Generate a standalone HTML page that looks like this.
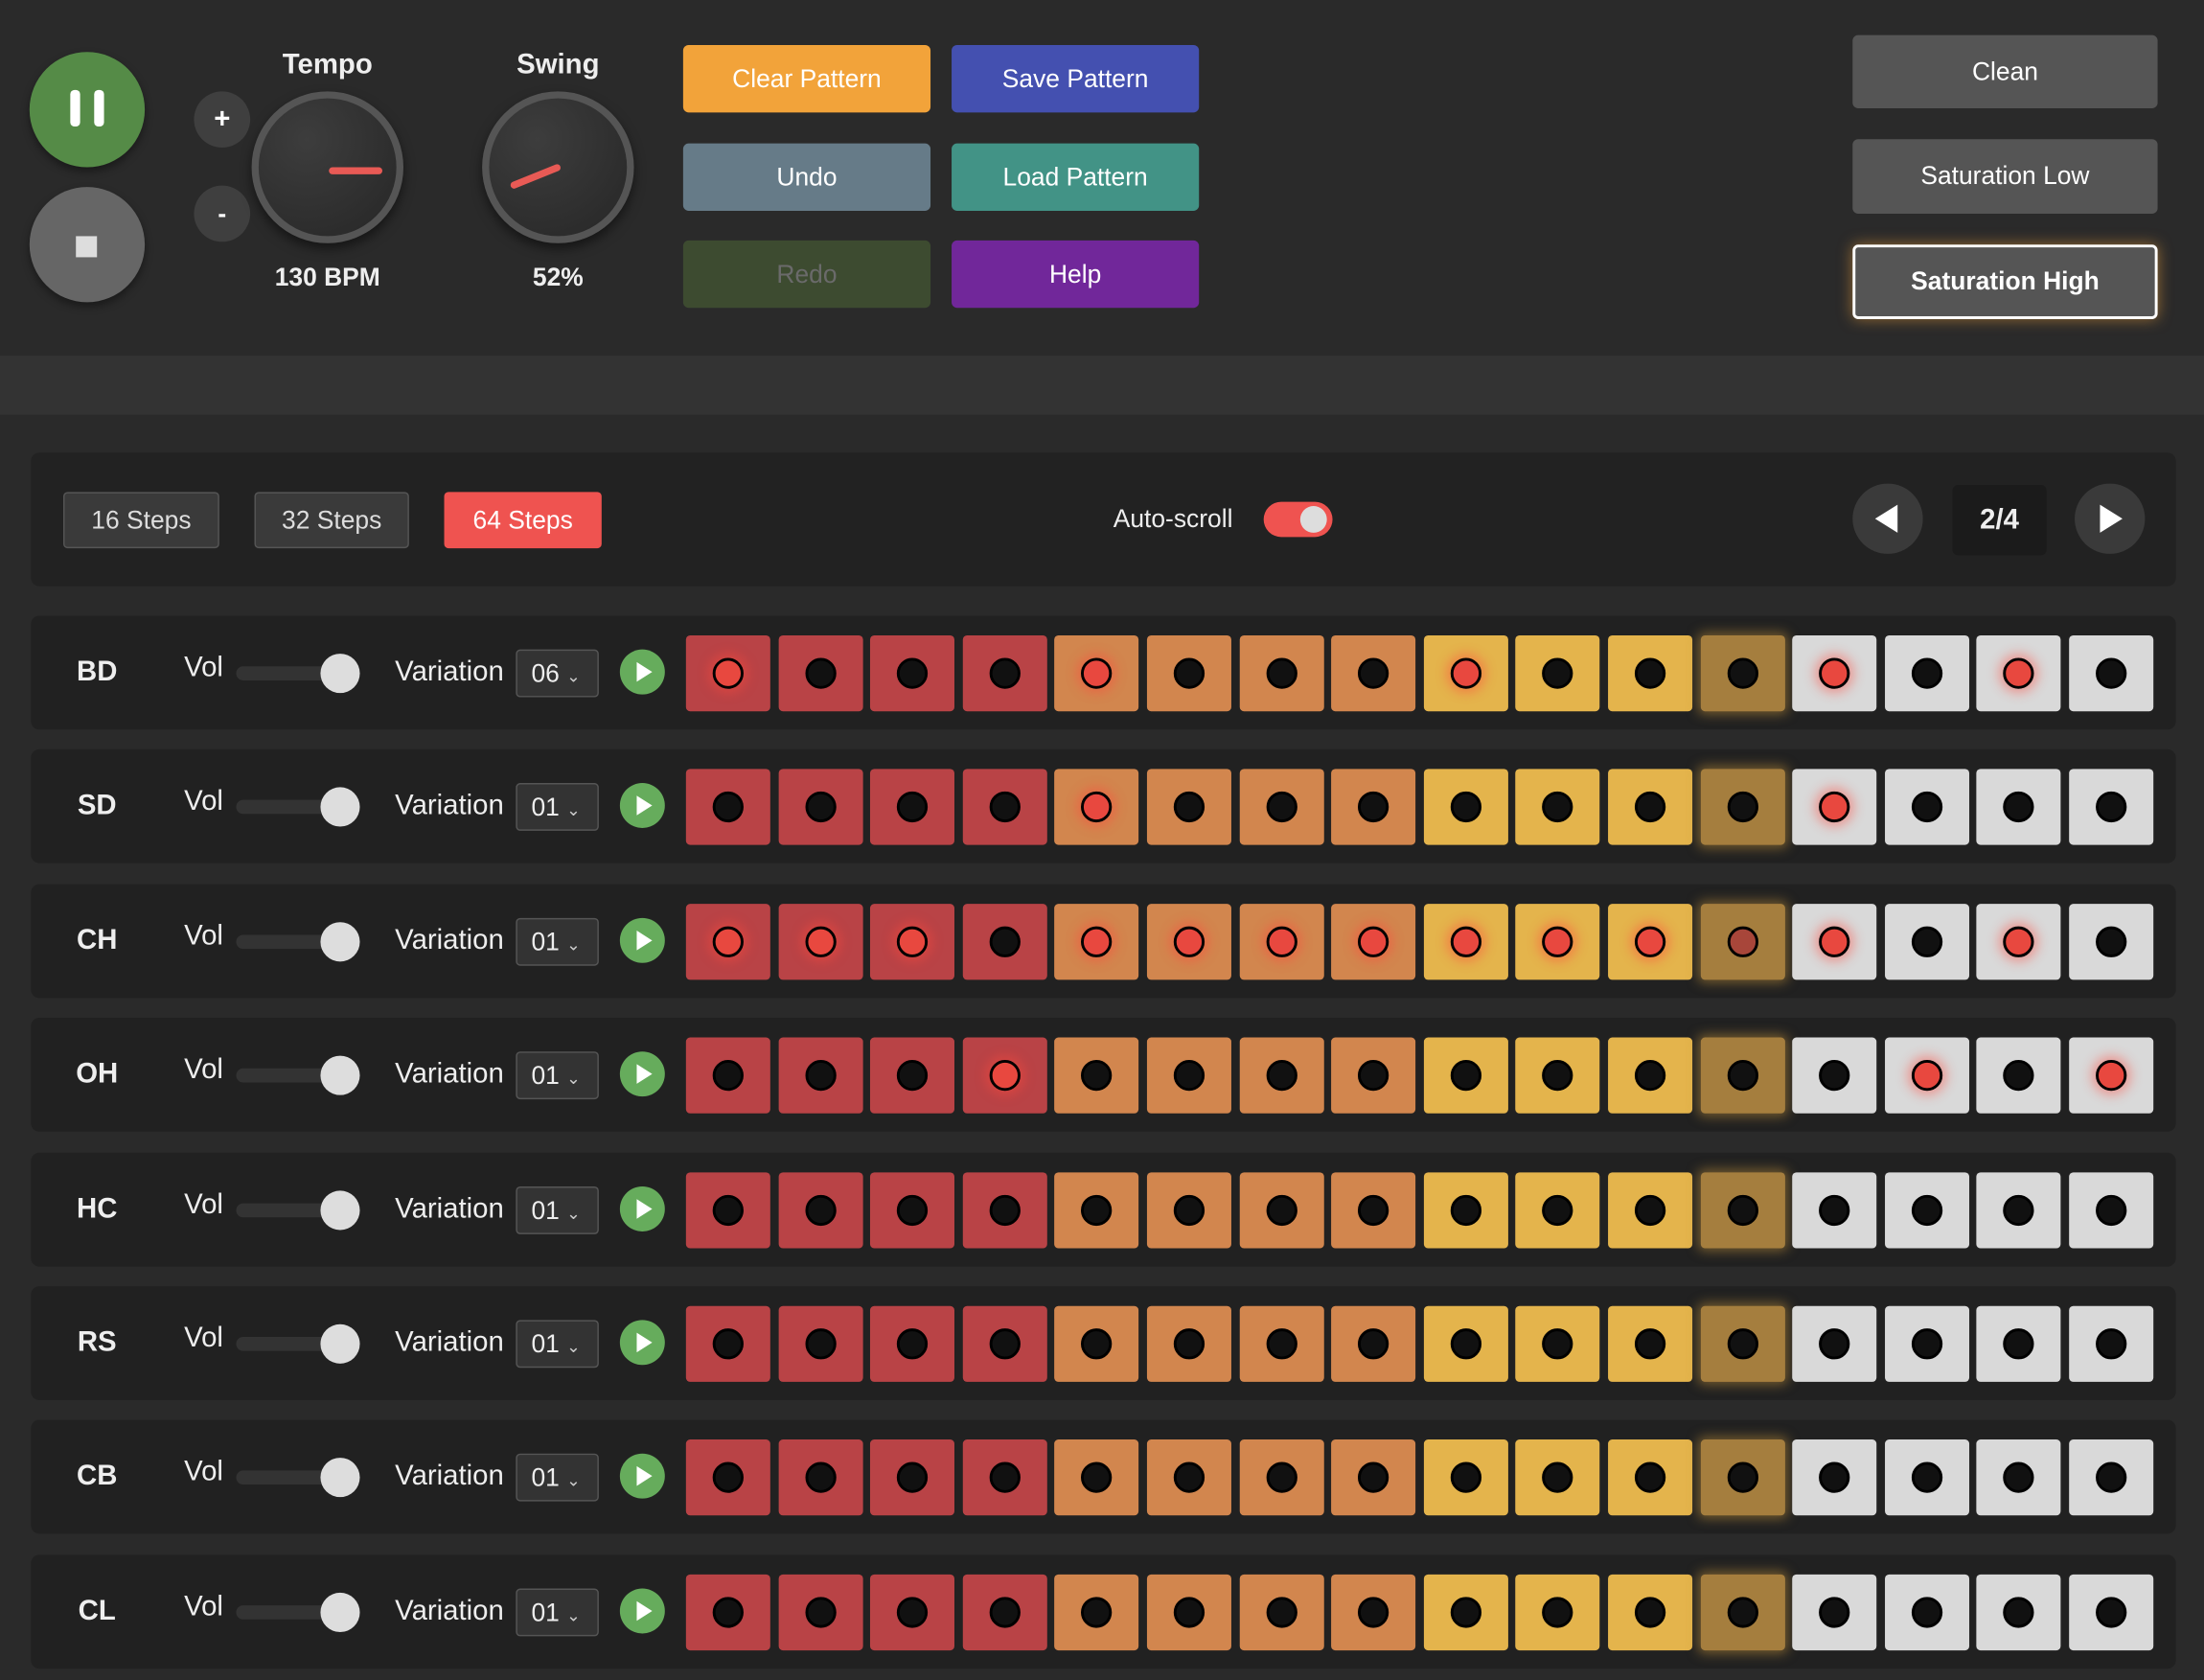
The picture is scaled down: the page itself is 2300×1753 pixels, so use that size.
<!DOCTYPE html>
<html><head><meta charset="utf-8">
<style>
html,body{margin:0;padding:0;background:#2a2a2a;width:2300px;height:1752px;overflow:hidden;font-family:"Liberation Sans",sans-serif;}
#wrap{position:absolute;left:0;top:0;width:1568px;height:1195px;transform:scale(1.46684);transform-origin:0 0;background:#2a2a2a;color:#eee;}
.abs{position:absolute;}
.circ{position:absolute;border-radius:50%;}
.btn{position:absolute;border-radius:4px;color:#fff;font-size:18px;display:flex;align-items:center;justify-content:center;}
.knob{position:absolute;width:98px;height:98px;border-radius:50%;border:5px solid #555;background:radial-gradient(circle at 35% 30%,#3d3d3d,#262626);box-shadow:0 4px 8px rgba(0,0,0,.5);}
.needle{position:absolute;width:38px;height:5px;background:#e85a55;border-radius:3px;}
.lbl{position:absolute;font-weight:bold;font-size:20px;text-align:center;color:#eee;}
.row{position:absolute;left:22px;width:1526px;height:81px;background:#212121;border-radius:6px;}
.cell{position:absolute;width:60px;height:54px;border-radius:3px;}
.dot{position:absolute;left:19px;top:16px;width:18px;height:18px;border-radius:50%;border:2px solid #000;background:#111;}
.dot.on{background:#e8483f;box-shadow:0 0 8px 3px rgba(255,70,60,.45);}
.sbtn{position:absolute;top:350px;height:38px;border:1px solid #555;background:#3a3a3a;border-radius:3px;color:#ddd;font-size:18px;display:flex;align-items:center;justify-content:center;}
</style></head><body>
<div id="wrap">
<div class="abs" style="left:0;top:253px;width:1568px;height:42px;background:#333"></div>

<div class="circ" style="left:21px;top:37px;width:82px;height:82px;background:#558b47;box-shadow:0 3px 6px rgba(0,0,0,.4)">
 <div class="abs" style="left:29px;top:27px;width:7px;height:26px;background:#fff;border-radius:3px"></div>
 <div class="abs" style="left:46px;top:27px;width:7px;height:26px;background:#fff;border-radius:3px"></div>
</div>
<div class="circ" style="left:21px;top:133px;width:82px;height:82px;background:#666;box-shadow:0 3px 6px rgba(0,0,0,.4)">
 <div class="abs" style="left:33px;top:35px;width:15px;height:15px;background:#ddd"></div>
</div>
<div class="circ" style="left:138px;top:65px;width:40px;height:40px;background:#3f3f3f;color:#fff;font-weight:bold;font-size:20px;text-align:center;line-height:40px">+</div>
<div class="circ" style="left:138px;top:132px;width:40px;height:40px;background:#3f3f3f;color:#fff;font-weight:bold;font-size:18px;text-align:center;line-height:40px">-</div>

<div class="lbl" style="left:183px;top:35px;width:100px">Tempo</div>
<div class="knob" style="left:179px;top:65px"><div class="needle" style="left:50px;top:49px"></div></div>
<div class="lbl" style="left:173px;top:187px;width:120px;font-size:18px">130 BPM</div>

<div class="lbl" style="left:347px;top:35px;width:100px">Swing</div>
<div class="knob" style="left:343px;top:65px"><div class="needle" style="left:14px;top:53px;transform:rotate(-22deg)"></div></div>
<div class="lbl" style="left:347px;top:187px;width:100px;font-size:18px">52%</div>

<div class="btn" style="left:486px;top:32px;width:176px;height:48px;background:#f2a33a">Clear Pattern</div>
<div class="btn" style="left:677px;top:32px;width:176px;height:48px;background:#4450b0">Save Pattern</div>
<div class="btn" style="left:486px;top:102px;width:176px;height:48px;background:#667b88">Undo</div>
<div class="btn" style="left:677px;top:102px;width:176px;height:48px;background:#429386">Load Pattern</div>
<div class="btn" style="left:486px;top:171px;width:176px;height:48px;background:#3d4b30;color:#6a6a6a">Redo</div>
<div class="btn" style="left:677px;top:171px;width:176px;height:48px;background:#71279a">Help</div>

<div class="btn" style="left:1318px;top:25px;width:217px;height:52px;background:#555">Clean</div>
<div class="btn" style="left:1318px;top:99px;width:217px;height:53px;background:#555">Saturation Low</div>
<div class="btn" style="left:1318px;top:174px;width:213px;height:49px;background:#555;border:2px solid #fff;font-weight:bold;box-shadow:0 0 10px rgba(255,170,60,.5)">Saturation High</div>

<div class="abs" style="left:22px;top:322px;width:1526px;height:95px;background:#222;border-radius:6px"></div>
<div class="sbtn" style="left:45px;width:109px">16 Steps</div>
<div class="sbtn" style="left:181px;width:108px">32 Steps</div>
<div class="sbtn" style="left:316px;width:110px;background:#ef5350;border-color:#ef5350;color:#fff">64 Steps</div>
<div class="abs" style="left:792px;top:359px;width:115px;font-size:18px;color:#eee">Auto-scroll</div>
<div class="abs" style="left:899px;top:357px;width:49px;height:25px;border-radius:13px;background:#ef5350"><div class="circ" style="left:26px;top:3px;width:19px;height:19px;background:#ddd"></div></div>
<div class="circ" style="left:1318px;top:344px;width:50px;height:50px;background:#3a3a3a"><div class="abs" style="left:16px;top:15px;width:0;height:0;border-top:10px solid transparent;border-bottom:10px solid transparent;border-right:16px solid #fff"></div></div>
<div class="abs" style="left:1389px;top:345px;width:67px;height:50px;background:#1b1b1b;border-radius:4px;font-weight:bold;font-size:20px;text-align:center;line-height:50px">2/4</div>
<div class="circ" style="left:1476px;top:344px;width:50px;height:50px;background:#3a3a3a"><div class="abs" style="left:18px;top:15px;width:0;height:0;border-top:10px solid transparent;border-bottom:10px solid transparent;border-left:16px solid #fff"></div></div>

<div id="rows"></div>
</div>
<script>
const tracks=["BD","SD","CH","OH","HC","RS","CB","CL"];
const variations=["06","01","01","01","01","01","01","01"];
const bdSteps=[1,5,9,13,15];
const sdSteps=[5,13];
const chSteps=[1,2,3,5,6,7,8,9,10,11,12,13,15];
const ohSteps=[4,14,16];
const patterns=[bdSteps,sdSteps,chSteps,ohSteps,[],[],[],[]];
const playhead=12;
const colColors=["#b94346","#b94346","#b94346","#b94346","#d2864e","#d2864e","#d2864e","#d2864e","#e4b44c","#e4b44c","#e4b44c","#a57e3e","#d9d9d9","#d9d9d9","#d9d9d9","#d9d9d9"];
const root=document.getElementById('rows');
tracks.forEach((t,i)=>{
  const top=438+i*95.4;
  const r=document.createElement('div');
  r.className='row';r.style.top=top+'px';
  
  
  r.innerHTML=`<div class="abs" style="left:17px;top:29px;width:60px;text-align:center;font-weight:bold;font-size:20px">${t}</div>
  <div class="abs" style="left:109px;top:26px;font-size:20px">Vol</div>
  <div class="abs" style="left:146px;top:36px;width:74px;height:10px;border-radius:5px;background:#333"></div>
  <div class="circ" style="left:206px;top:27px;width:28px;height:28px;background:#ddd"></div>
  <div class="abs" style="left:259px;top:29px;font-size:20px">Variation</div>
  <div class="abs" style="left:345px;top:24px;border:1px solid #555;border-radius:3px;background:#333;font-size:18px;line-height:32px;padding-left:10px;box-sizing:border-box;width:59px;height:34px">${variations[i]} <span style="font-size:12px;color:#ccc">&#8964;</span></div>
  <div class="circ" style="left:419px;top:24px;width:32px;height:32px;background:#66ac5c"><div class="abs" style="left:12px;top:9px;border-top:7px solid transparent;border-bottom:7px solid transparent;border-left:11px solid #fff"></div></div>`;
  root.appendChild(r);
  for(let s=1;s<=16;s++){
    const c=document.createElement('div');
    c.className='cell';
    
    
    c.style.left=(488+(s-1)*65.6)+'px';
    c.style.top=(top+14)+'px';
    c.style.background=colColors[s-1];
    if(s===playhead)c.style.boxShadow='0 0 8px 2px rgba(200,150,60,.5)';
    const d=document.createElement('div');
    d.className='dot'+(patterns[i].includes(s)?' on':'');
    if(s===playhead&&patterns[i].includes(s)){d.style.background='#a8463a';d.style.boxShadow='none';}
    c.appendChild(d);
    root.appendChild(c);
  }
});
</script>
</body></html>
